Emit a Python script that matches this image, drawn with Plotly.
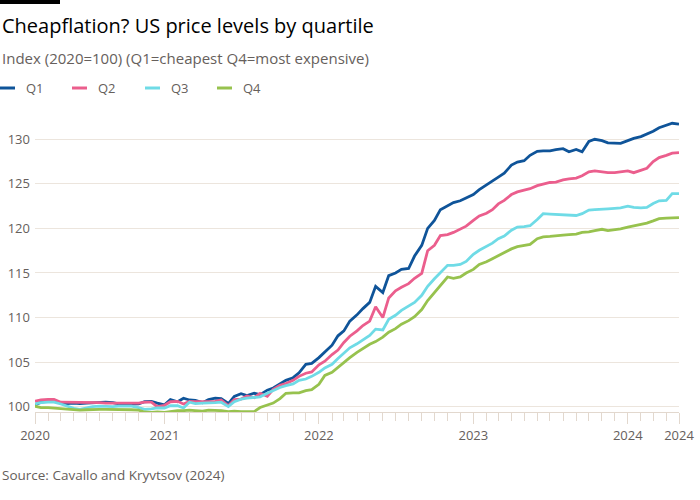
import pandas as pd
import plotly.graph_objects as go

# Semi-monthly observation dates (1st and 15th), Mar 2020 - May 2024
dates = pd.date_range("2020-03-01", periods=101, freq="SMS")

q1 = [100.2, 100.5, 100.6, 100.65, 100.4, 100.35, 100.4, 100.35, 100.4, 100.45,
      100.5, 100.5, 100.45, 100.3, 100.25, 100.3, 100.3, 100.55, 100.6, 100.4,
      100.2, 100.8, 100.55, 100.95, 100.75, 100.7, 100.45, 100.8, 100.95, 100.9,
      100.35, 101.15, 101.45, 101.25, 101.5, 101.35, 101.85, 102.1, 102.55, 102.95,
      103.25, 103.8, 104.75, 104.85, 105.5, 106.1, 106.9, 107.95, 108.5, 109.6,
      110.3, 111.0, 111.7, 113.5, 112.8, 114.7, 115.0, 115.4, 115.5, 116.9,
      118.1, 120.0, 120.9, 122.1, 122.55, 122.9, 123.1, 123.4, 123.8, 124.35,
      124.85, 125.3, 125.75, 126.2, 127.1, 127.45, 127.6, 128.2, 128.65, 128.7,
      128.7, 128.85, 128.95, 128.6, 128.85, 128.6, 129.75, 130.0, 129.85, 129.6,
      129.55, 129.55, 129.85, 130.1, 130.3, 130.55, 130.9, 131.3, 131.6, 131.8,
      131.7]

q2 = [100.6, 100.75, 100.8, 100.8, 100.5, 100.5, 100.5, 100.5, 100.45, 100.45,
      100.45, 100.4, 100.4, 100.4, 100.35, 100.35, 100.4, 100.5, 100.5, 100.0,
      100.15, 100.55, 100.6, 100.3, 100.6, 100.55, 100.55, 100.6, 100.6, 100.75,
      100.1, 100.8, 100.85, 101.2, 101.0, 101.5, 101.15, 101.95, 102.4, 102.6,
      102.95, 103.4, 103.75, 103.9, 104.7, 105.1, 105.85, 106.35, 107.2, 107.9,
      108.5, 109.1, 109.6, 111.2, 110.0, 112.2, 113.0, 113.4, 113.8, 114.4,
      114.95, 117.5, 118.1, 119.2, 119.3, 119.55, 119.9, 120.25, 120.9, 121.4,
      121.7, 122.1, 122.75, 123.15, 123.8, 124.1, 124.3, 124.45, 124.8, 125.0,
      125.15, 125.2, 125.45, 125.55, 125.65, 125.9, 126.35, 126.45, 126.3, 126.25,
      126.25, 126.35, 126.45, 126.25, 126.55, 126.75, 127.5, 127.95, 128.2, 128.45,
      128.5]

q3 = [100.3, 100.45, 100.5, 100.5, 100.3, 100.1, 99.8, 99.7, 99.85, 100.0,
      100.05, 100.0, 100.0, 100.05, 100.05, 100.05, 99.9, 99.7, 99.75, 99.85,
      99.85, 100.1, 100.1, 99.85, 100.5, 100.35, 100.4, 100.4, 100.45, 100.5,
      100.0, 100.55, 100.85, 100.95, 101.0, 101.1, 101.5, 101.8, 102.15, 102.35,
      102.55, 102.95, 103.1, 103.4, 103.85, 104.35, 104.75, 105.4, 106.0, 106.6,
      107.05, 107.5, 108.0, 108.7, 108.6, 109.8, 110.25, 110.8, 111.25, 111.7,
      112.5, 113.5, 114.35, 115.05, 115.85, 115.85, 115.95, 116.3, 117.1, 117.55,
      117.95, 118.35, 118.85, 119.15, 119.8, 120.15, 120.2, 120.3, 121.0, 121.65,
      121.6, 121.55, 121.55, 121.5, 121.45, 121.65, 122.05, 122.1, 122.2, 122.2,
      122.25, 122.3, 122.5, 122.35, 122.3, 122.35, 122.8, 123.1, 123.15, 123.9,
      123.9]

q4 = [100.05, 99.9, 99.9, 99.85, 99.8, 99.75, 99.65, 99.6, 99.65, 99.7,
      99.7, 99.7, 99.7, 99.65, 99.65, 99.65, 99.6, 99.4, 99.35, 99.4,
      99.35, 99.45, 99.55, 99.55, 99.6, 99.55, 99.5, 99.6, 99.6, 99.55,
      99.45, 99.5, 99.45, 99.45, 99.45, 99.9, 100.15, 100.4, 100.9, 101.5,
      101.55, 101.55, 101.8, 101.9, 102.5, 103.5, 103.85, 104.4, 105.05, 105.5,
      106.1, 106.55, 107.0, 107.3, 107.8, 108.35, 108.75, 109.25, 109.65, 110.1,
      110.9, 111.9, 112.8, 113.5, 114.55, 114.4, 114.55, 115.0, 115.4, 115.95,
      116.25, 116.6, 116.95, 117.35, 117.7, 117.95, 118.05, 118.2, 118.85, 119.05,
      119.1, 119.2, 119.25, 119.3, 119.35, 119.55, 119.6, 119.75, 119.9, 119.75,
      119.85, 119.95, 120.15, 120.3, 120.45, 120.6, 120.85, 121.1, 121.15, 121.15,
      121.2]

series_names = ["Q1", "Q2", "Q3", "Q4"]
series_values = [q1, q2, q3, q4]
colors = ["#0f5499", "#eb5e8d", "#6fdbe6", "#97c24e"]

x_tickvals = ["2020-03-01", "2021-01-01", "2022-01-01", "2023-01-01", "2024-01-01", "2024-05-01"]
x_ticktext = ["2020", "2021", "2022", "2023", "2024", "2024"]
y_tickvals = [100, 105, 110, 115, 120, 125, 130]

title = "Cheapflation? US price levels by quartile"
subtitle = "Index (2020=100) (Q1=cheapest Q4=most expensive)"
source = "Source: Cavallo and Kryvtsov (2024)"

FONT = "Open Sans"
GREY = "#66605c"
GRID = "#ece5dd"
TICK = "#e2d8ce"

W, H = 700, 500
L, R, T, B = 35, 21, 117, 88
PW, PH = W - L - R, H - T - B

def px(x):
    return (x - L) / PW

def py(y):
    return 1 - (y - T) / PH

fig = go.Figure()
for name, vals, c in zip(series_names, series_values, colors):
    fig.add_trace(go.Scatter(x=dates, y=vals, mode="lines", name=name,
                             line=dict(color=c, width=2.8), showlegend=False))

fig.update_layout(
    width=W, height=H,
    margin=dict(l=L, r=R, t=T, b=B, autoexpand=False),
    paper_bgcolor="white", plot_bgcolor="white",
    font=dict(family=FONT, color=GREY, size=13),
    xaxis=dict(
        range=["2020-03-01", "2024-05-01"], automargin=False,
        tickvals=x_tickvals, ticktext=x_ticktext,
        ticks="outside", ticklen=11, tickcolor=TICK, tickwidth=1,
        showgrid=False, showline=True, linecolor=TICK, linewidth=1,
        zeroline=False, tickfont=dict(size=13, color=GREY),
        minor=dict(dtick="M1", tick0="2020-03-01", ticks="outside", ticklen=8,
                   tickcolor=TICK, tickwidth=1, showgrid=False),
    ),
    yaxis=dict(
        range=[99.4, 132.5], tickvals=y_tickvals, automargin=False,
        showgrid=True, gridcolor=GRID, gridwidth=1,
        zeroline=False, showline=False, ticks="",
        ticklabelstandoff=4, tickfont=dict(size=13, color=GREY),
    ),
)

# Top black bar
fig.add_shape(type="rect", xref="paper", yref="paper",
              x0=px(0), x1=px(60), y0=py(0), y1=py(4),
              fillcolor="black", line=dict(width=0))

fig.add_annotation(text=title, xref="paper", yref="paper", x=px(0), y=py(25),
                   xanchor="left", yanchor="middle", showarrow=False,
                   font=dict(size=20, color="#000000", family=FONT))
fig.add_annotation(text=subtitle, xref="paper", yref="paper", x=px(0), y=py(58),
                   xanchor="left", yanchor="middle", showarrow=False,
                   font=dict(size=15, color=GREY, family=FONT))

# Legend
leg_x = [0, 72, 145, 217]
for name, c, lx in zip(series_names, colors, leg_x):
    fig.add_shape(type="line", xref="paper", yref="paper",
                  x0=px(lx), x1=px(lx + 15), y0=py(88), y1=py(88),
                  line=dict(color=c, width=3))
    fig.add_annotation(text=name, xref="paper", yref="paper", x=px(lx + 24), y=py(88),
                       xanchor="left", yanchor="middle", showarrow=False,
                       font=dict(size=13, color=GREY, family=FONT))

fig.add_annotation(text=source, xref="paper", yref="paper", x=px(0), y=py(475),
                   xanchor="left", yanchor="middle", showarrow=False,
                   font=dict(size=13.5, color=GREY, family=FONT))

fig.write_html("out.html")
